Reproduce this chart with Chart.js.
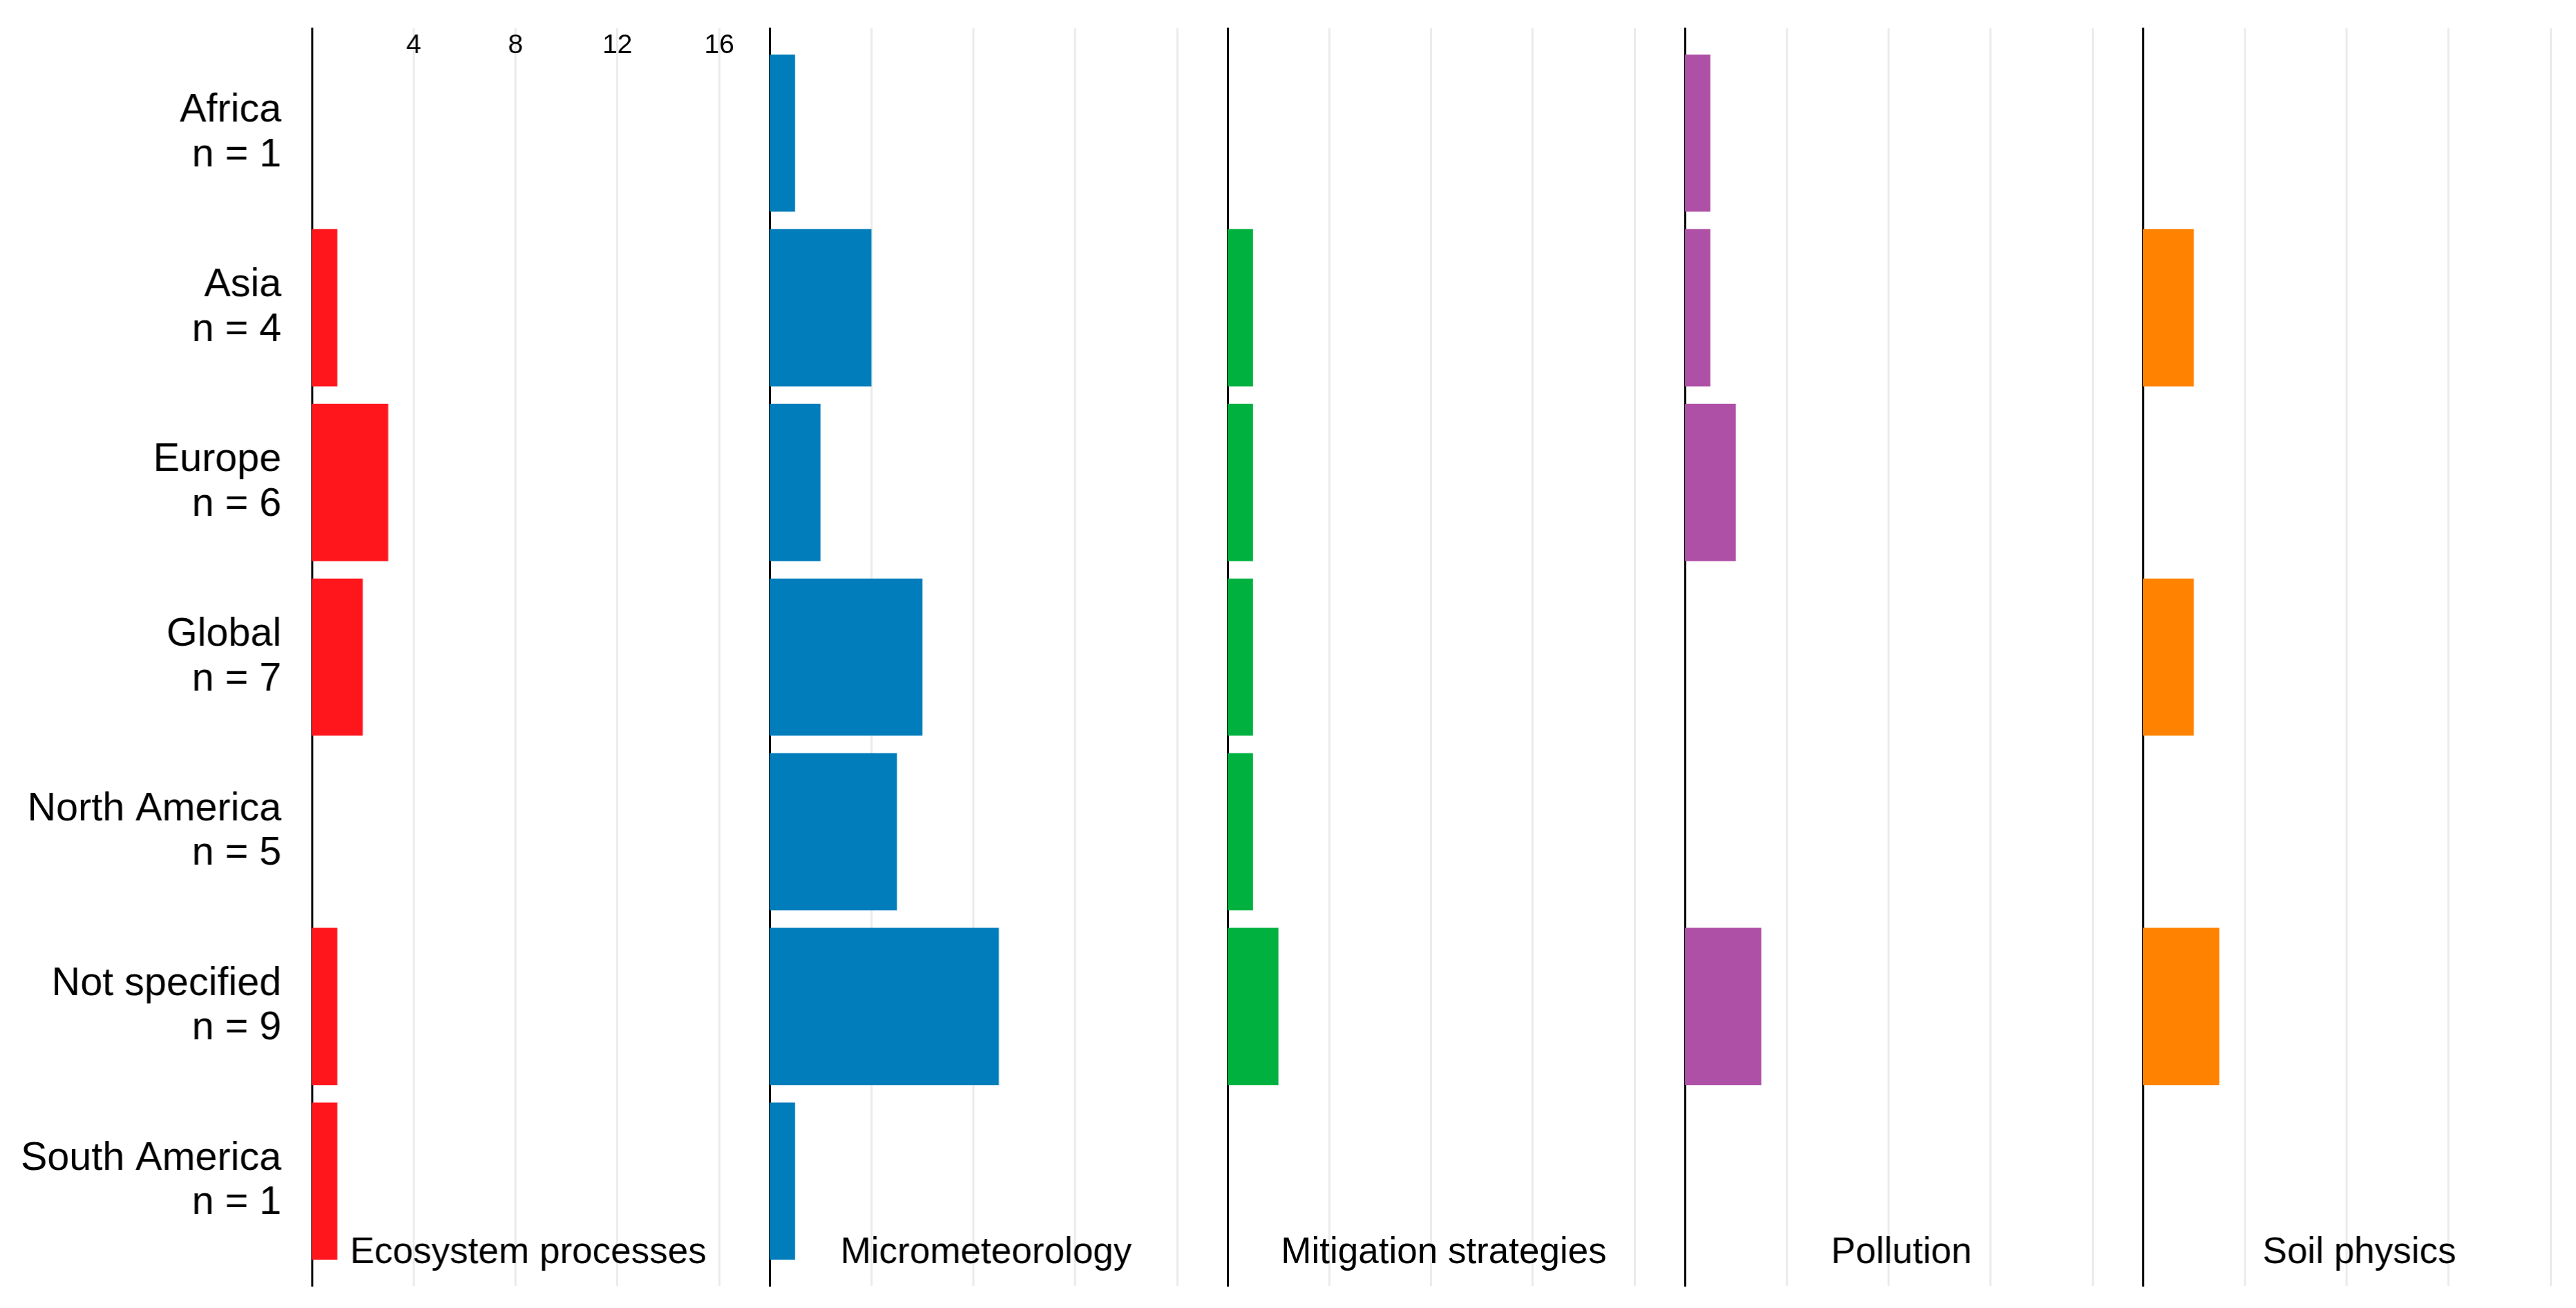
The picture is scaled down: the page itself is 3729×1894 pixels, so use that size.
<!DOCTYPE html>
<html>
<head>
<meta charset="utf-8">
<script src="https://cdn.jsdelivr.net/npm/chart.js@4.4.1/dist/chart.umd.min.js"></script>
<style>
  html, body { margin: 0; padding: 0; background: #fff; }
  #wrap { position: relative; width: 3729px; height: 1894px; overflow: hidden; background: #fff; }
  .panel { position: absolute; top: 0; height: 1894px; }
</style>
</head>
<body>
<div id="wrap"></div>
<script>
/* study counts per region, faceted by topic */

var regions = ['Africa', 'Asia', 'Europe', 'Global', 'North America', 'Not specified', 'South America'];
var regionN = [1, 4, 6, 7, 5, 9, 1];
var topics = ['Ecosystem processes', 'Micrometeorology', 'Mitigation strategies', 'Pollution', 'Soil physics'];
var topicColors = ['#FF161D', '#007DBA', '#00B140', '#AE50A5', '#FF8200'];
var ecosystem = [0, 1, 3, 2, 0, 1, 1];
var micromet = [1, 4, 2, 6, 5, 9, 1];
var mitigation = [0, 1, 1, 1, 1, 2, 0];
var pollution = [1, 1, 2, 0, 0, 3, 0];
var soil = [0, 2, 0, 2, 0, 3, 0];
var xTicks = [4, 8, 12, 16];

var topicValues = [ecosystem, micromet, mitigation, pollution, soil];
var panelMax = [18, 18, 18, 18, 17];

var FONT = '"Liberation Sans", Arial, Helvetica, sans-serif';
var LEFT = 451, UNIT = 36.82, PAD_TOP = 41, PAD_BOTTOM = 32, EDGE = 5;

var facetLabel = {
  id: 'facetLabel',
  afterDraw: function (chart) {
    var o = chart.options.plugins.facetLabel;
    var ctx = chart.ctx;
    ctx.save();
    ctx.font = '53px ' + FONT;
    ctx.fillStyle = '#000';
    ctx.textAlign = 'center';
    ctx.textBaseline = 'middle';
    ctx.fillText(o.text, chart.scales.x.getPixelForValue(8.5), chart.scales.y.getPixelForValue(7.41));
    ctx.restore();
  }
};

function rowTicks(scale) {
  scale.ticks = regions.map(function (r, i) { return { value: i + 1 }; });
}

function noPad(s) {
  s.paddingTop = 0; s.paddingBottom = 0; s.paddingLeft = 0; s.paddingRight = 0;
}

function makePanel(k) {
  var first = k === 0;
  var axisX = LEFT + k * 18 * UNIT;
  var areaW = panelMax[k] * UNIT;
  var div = document.createElement('div');
  div.className = 'panel';
  var left = first ? 0 : axisX - EDGE;
  var width = first ? LEFT + areaW : areaW + EDGE;
  div.style.left = left + 'px';
  div.style.width = width + 'px';
  var cv = document.createElement('canvas');
  div.appendChild(cv);
  document.getElementById('wrap').appendChild(div);

  var vals = topicValues[k];
  return new Chart(cv, {
    type: 'bar',
    data: {
      datasets: [{
        label: topics[k],
        data: vals.map(function (v, i) { return { x: v, y: i + 1 }; }),
        backgroundColor: topicColors[k],
        borderWidth: 0,
        barPercentage: 0.9,
        categoryPercentage: 1
      }]
    },
    options: {
      indexAxis: 'y',
      responsive: true, maintainAspectRatio: false, animation: false,
      layout: { padding: { top: PAD_TOP, bottom: PAD_BOTTOM, left: first ? 0 : EDGE, right: 0 } },
      plugins: {
        legend: { display: false },
        tooltip: { enabled: false },
        facetLabel: { text: topics[k] }
      },
      scales: {
        x: {
          type: 'linear', position: 'top', min: 0, max: panelMax[k],
          afterBuildTicks: function (s) { s.ticks = xTicks.map(function (v) { return { value: v }; }); },
          afterFit: function (s) { s.height = 0; noPad(s); },
          grid: { color: '#EBEBEB', lineWidth: 3, drawTicks: false },
          border: { display: false },
          ticks: { display: first, mirror: true, padding: 2, color: '#000', font: { family: FONT, size: 39 } }
        },
        y: {
          type: 'linear', min: 0.4, max: 7.6, reverse: true, offset: false,
          afterBuildTicks: rowTicks,
          afterFit: function (s) { s.width = first ? LEFT : 0; noPad(s); },
          grid: { display: false, drawTicks: false, offset: false },
          border: { display: true, color: '#000', width: 3 },
          ticks: {
            display: first, padding: 44, color: '#000',
            font: { family: FONT, size: 57.5, lineHeight: 1.12 },
            callback: function (v) { return [regions[v - 1], 'n = ' + regionN[v - 1]]; }
          }
        }
      }
    },
    plugins: [facetLabel]
  });
}

for (var k = 0; k < topics.length; k++) makePanel(k);
</script>
</body>
</html>
